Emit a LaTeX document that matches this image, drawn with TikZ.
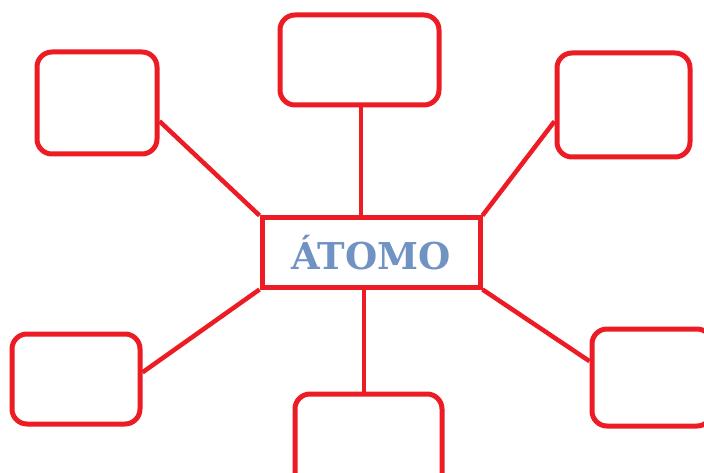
\documentclass[tikz,border=0pt]{standalone}
\usepackage{fontspec}
\usetikzlibrary{calc}
\newfontfamily\titlefont{DejaVu Serif}
\definecolor{boxred}{RGB}{237,28,36}
\definecolor{atomblue}{RGB}{112,147,196}

\begin{document}
\begin{tikzpicture}[x=1pt, y=-1pt,
    bubble/.style={draw=boxred, line width=5pt, rounded corners=15pt, inner sep=0pt},
    link/.style={draw=boxred, line width=4.5pt}]
    \useasboundingbox (0,0) rectangle (704,473);

    % Center box
    \node[draw=boxred, line width=5pt, minimum width=218pt, minimum height=69pt, inner sep=0pt]
        (atom) at (371,252.5) {\titlefont\bfseries\fontsize{37}{37}\selectfont\color{atomblue}ÁTOMO};

    % Outer boxes
    \node[bubble, minimum width=120pt, minimum height=102pt] (tl) at (97,103) {};
    \node[bubble, minimum width=159pt, minimum height=90pt] (top) at (359.5,60) {};
    \node[bubble, minimum width=133pt, minimum height=104pt] (tr) at (623.5,105) {};
    \node[bubble, minimum width=128pt, minimum height=90pt] (bl) at (76,379) {};
    \node[bubble, minimum width=147pt, minimum height=96pt] (bot) at (368.5,442) {};
    \node[bubble, minimum width=120pt, minimum height=97pt] (br) at (652,377.5) {};

    % Links
    \draw[link] ([xshift=1.5pt]top.south) -- ([xshift=1.5pt]top.south |- atom.north);
    \draw[link] ([xshift=-4.5pt]bot.north) -- ([xshift=-4.5pt]bot.north |- atom.south);
    \draw[link] ($(tl.north east)!0.67!(tl.south east)$) -- (atom.north west);
    \draw[link] ($(tr.north west)!0.65!(tr.south west)$) -- (atom.north east);
    \draw[link] ($(bl.north east)!0.43!(bl.south east)$) -- (atom.south west);
    \draw[link] ($(br.north west)!0.34!(br.south west)$) -- (atom.south east);
\end{tikzpicture}
\end{document}
